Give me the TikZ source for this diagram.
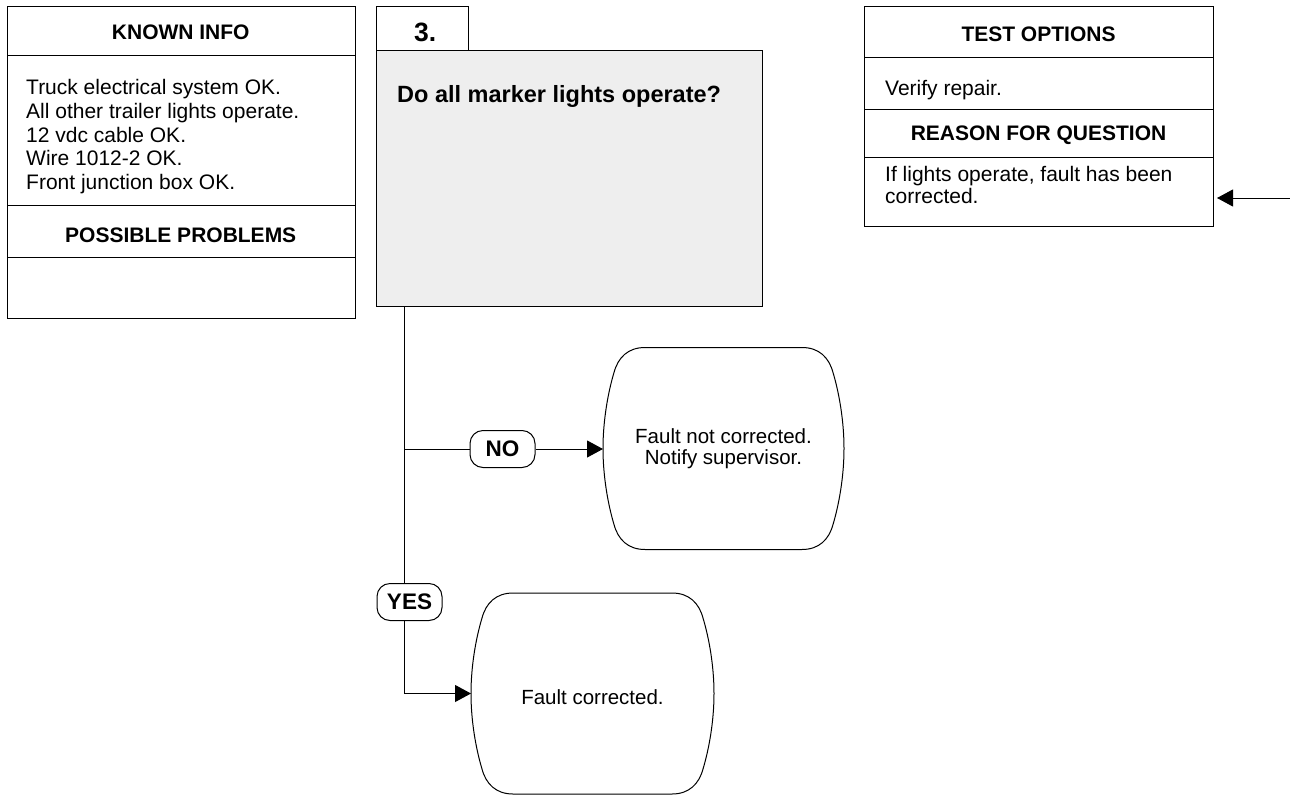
\documentclass[tikz,border=0pt]{standalone}
\usepackage{fontspec}
\setmainfont{Liberation Sans}
\usetikzlibrary{calc,arrows.meta}
\definecolor{qgray}{HTML}{EEEEEE}
\tikzset{
  cell/.style={draw, line width=1pt, inner sep=0pt, anchor=north west},
  hdr/.style={font=\fontsize{21}{24}\selectfont\bfseries, anchor=base, inner sep=0pt},
  bodytxt/.style={font=\fontsize{21}{23.7}\selectfont, anchor=north west, inner sep=0pt, align=left},
  pill/.style={draw, line width=1pt, fill=white, rounded corners=13pt, minimum width=65pt, minimum height=37pt, inner sep=0pt, font=\fontsize{22.5}{24}\selectfont\bfseries},
  endbox/.style={inner sep=0pt, outer sep=0pt, align=center, font=\fontsize{20.5}{20.5}\selectfont},
  conn/.style={line width=1pt},
  arr/.style={line width=1pt, -{Triangle[length=16pt,width=17pt]}},
}
\newcommand{\drawoval}[1]{%
  \draw[conn] ($(#1.north west)+(42,0)$) -- ($(#1.north east)+(-42,0)$)
    .. controls ($(#1.north east)+(-25,0)$) and ($(#1.north east)+(-15,10)$) .. ($(#1.north east)+(-11,25)$)
    .. controls ($(#1.north east)+(-5,45)$) and ($(#1.east)+(0,-28)$) .. (#1.east)
    .. controls ($(#1.east)+(0,28)$) and ($(#1.south east)+(-5,-45)$) .. ($(#1.south east)+(-11,-25)$)
    .. controls ($(#1.south east)+(-15,-10)$) and ($(#1.south east)+(-25,0)$) .. ($(#1.south east)+(-42,0)$)
    -- ($(#1.south west)+(42,0)$)
    .. controls ($(#1.south west)+(25,0)$) and ($(#1.south west)+(15,-10)$) .. ($(#1.south west)+(11,-25)$)
    .. controls ($(#1.south west)+(5,-45)$) and ($(#1.west)+(0,28)$) .. (#1.west)
    .. controls ($(#1.west)+(0,-28)$) and ($(#1.north west)+(5,45)$) .. ($(#1.north west)+(11,25)$)
    .. controls ($(#1.north west)+(15,10)$) and ($(#1.north west)+(25,0)$) .. ($(#1.north west)+(42,0)$);}
\begin{document}
\begin{tikzpicture}[x=1pt,y=-1pt]
\useasboundingbox (0,0) rectangle (1290,795);
% left box
\node[cell, minimum width=348.5pt, minimum height=49pt] (k1) at (6.5,6) {};
\node[cell, minimum width=348.5pt, minimum height=150pt] (k2) at (6.5,55) {};
\node[cell, minimum width=348.5pt, minimum height=52pt] (k3) at (6.5,205) {};
\node[cell, minimum width=348.5pt, minimum height=61pt] (k4) at (6.5,257) {};
\node[hdr] (k1t) at (180.75,39) {KNOWN INFO};
\node[bodytxt] (k2t) at (26,79.3) {Truck electrical system OK.\\All other trailer lights operate.\\12 vdc cable OK.\\Wire 1012-2 OK.\\Front junction box OK.};
\node[hdr] (k3t) at (180.75,242) {POSSIBLE PROBLEMS};
% question box
\node[cell, minimum width=92pt, minimum height=44pt] (tab) at (376,6) {};
\node[anchor=base west, inner sep=0pt, font=\fontsize{26.5}{28}\selectfont\bfseries] (tabt) at (414,41) {3.};
\node[cell, fill=qgray, minimum width=386pt, minimum height=256pt] (q) at (376,50) {};
\node[anchor=base west, inner sep=0pt, font=\fontsize{23.5}{26}\selectfont\bfseries] (qt) at (397,102) {Do all marker lights operate?};
% right box
\node[cell, minimum width=349pt, minimum height=51pt] (r1) at (864,6) {};
\node[cell, minimum width=349pt, minimum height=51.5pt] (r2) at (864,57) {};
\node[cell, minimum width=349pt, minimum height=48.5pt] (r3) at (864,108.5) {};
\node[cell, minimum width=349pt, minimum height=69pt] (r4) at (864,157) {};
\node[hdr] (r1t) at (1038.5,41.7) {TEST OPTIONS};
\node[anchor=base west, inner sep=0pt, font=\fontsize{21}{22}\selectfont] (r2t) at (885,95) {Verify repair.};
\node[hdr] (r3t) at (1038.5,140.7) {REASON FOR QUESTION};
\node[bodytxt, font=\fontsize{21}{21.7}\selectfont] (r4t) at (885,166.4) {If lights operate, fault has been\\corrected.};
% end boxes
\node[endbox, minimum width=241pt, minimum height=202pt] (no) at (723.5,448.5) {Fault not corrected.\\Notify supervisor.};
\drawoval{no}
\node[endbox, minimum width=243pt, minimum height=201pt] (yo) at (592.5,693.5) {};
\node[endbox] (yot) at (592.5,697.5) {Fault corrected.};
\drawoval{yo}
% connectors
\coordinate (jtop) at ($(q.south west)+(28,0)$);
\coordinate (jno) at (404,449);
\coordinate (src) at (1290,198);
\draw[arr] (jtop) |- (yo.west);
\node[pill] (nop) at (502.5,449) {NO};
\draw[conn] (jno) -- (jno -| nop.west);
\draw[arr] (nop.east) -- (nop.east -| no.west);
\node[pill] (yesp) at (409.5,602) {YES};
\draw[arr, shorten >=3pt] (src) -- (src -| r4.east);
\end{tikzpicture}
\end{document}
